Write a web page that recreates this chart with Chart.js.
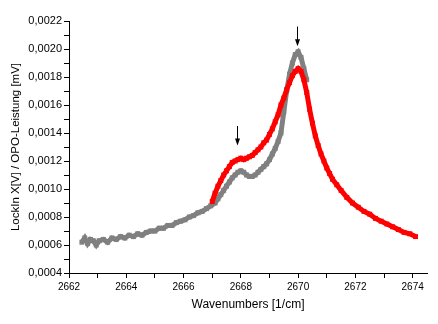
<!DOCTYPE html>
<html>
<head>
<meta charset="utf-8">
<script src="https://cdn.jsdelivr.net/npm/chart.js@4/dist/chart.umd.min.js"></script>
<style>
  html, body { margin: 0; padding: 0; background: #fff; }
  #wrap { width: 438px; height: 324px; }
</style>
</head>
<body>
<div id="wrap"><canvas id="chart" width="438" height="324"></canvas></div>
<script>
// gray trace (first scan)
const grayX = [2662.45, 2662.55, 2662.65, 2662.75, 2662.85, 2662.95, 2663.05, 2663.2, 2663.35, 2663.5,
  2663.65, 2663.8, 2663.95, 2664.1, 2664.25, 2664.4, 2664.55, 2664.7, 2664.85, 2665.0,
  2665.15, 2665.3, 2665.45, 2665.6, 2665.75, 2665.9, 2666.05, 2666.2, 2666.35, 2666.5,
  2666.65, 2666.8, 2666.95, 2667.1, 2667.2, 2667.3, 2667.4, 2667.5, 2667.6, 2667.7,
  2667.8, 2667.9, 2668.0, 2668.1, 2668.2, 2668.3, 2668.4, 2668.5, 2668.6, 2668.7,
  2668.8, 2668.9, 2669.0, 2669.1, 2669.2, 2669.3, 2669.4, 2669.5, 2669.6, 2669.7,
  2669.8, 2669.9, 2670.0, 2670.1, 2670.2, 2670.3];
const grayY = [0.00062, 0.00065, 0.00061, 0.00064, 0.00063, 0.00060, 0.00063, 0.00064, 0.00062, 0.00065,
  0.00064, 0.00066, 0.00065, 0.00067, 0.00066, 0.00068, 0.00067, 0.00069, 0.00070, 0.00070,
  0.00072, 0.00072, 0.00074, 0.00074, 0.00076, 0.00077, 0.00078, 0.00080, 0.00081, 0.00083,
  0.00084, 0.00086, 0.00088, 0.00090, 0.00093, 0.00096, 0.00099, 0.00102, 0.00105, 0.00108,
  0.00110, 0.00112, 0.00113, 0.00112, 0.00110, 0.00109, 0.00109, 0.00110, 0.00112, 0.00114,
  0.00116, 0.00118, 0.00121, 0.00125, 0.00129, 0.00134, 0.00140, 0.00155, 0.00170, 0.00182,
  0.00190, 0.00196, 0.00198, 0.00194, 0.00186, 0.00178];

// red trace (second scan)
const redX = [2667.0, 2667.1, 2667.2, 2667.3, 2667.4, 2667.5, 2667.6, 2667.7, 2667.8, 2667.9,
  2668.0, 2668.1, 2668.2, 2668.3, 2668.4, 2668.5, 2668.6, 2668.7, 2668.8, 2668.9,
  2669.0, 2669.1, 2669.2, 2669.3, 2669.4, 2669.5, 2669.6, 2669.7, 2669.8, 2669.9,
  2670.0, 2670.1, 2670.2, 2670.3, 2670.4, 2670.5, 2670.6, 2670.7, 2670.8, 2670.9,
  2671.0, 2671.1, 2671.2, 2671.35, 2671.5, 2671.7, 2671.9, 2672.1, 2672.3, 2672.5,
  2672.7, 2672.9, 2673.1, 2673.3, 2673.5, 2673.7, 2673.9, 2674.1];
const redY = [0.00091, 0.00097, 0.00102, 0.00106, 0.00110, 0.00113, 0.00116, 0.00119, 0.00120, 0.00121,
  0.00122, 0.00121, 0.00122, 0.00123, 0.00124, 0.00126, 0.00128, 0.00130, 0.00133, 0.00135,
  0.00139, 0.00143, 0.00148, 0.00153, 0.00160, 0.00165, 0.00171, 0.00176, 0.00181, 0.00184,
  0.00186, 0.00184, 0.00178, 0.00169, 0.00157, 0.00147, 0.00138, 0.00131, 0.00125, 0.00120,
  0.00115, 0.00111, 0.00107, 0.00103, 0.00099, 0.00094, 0.00090, 0.00087, 0.00084, 0.00082,
  0.00079, 0.00077, 0.00075, 0.00073, 0.00071, 0.00069, 0.00068, 0.00066];

// arrows marking the two features: x, top y, tip y
const arrowX = [2667.86, 2669.97];
const arrowTop = [0.00145, 0.00216];
const arrowTip = [0.00131, 0.00202];

const xTicks = [2662, 2664, 2666, 2668, 2670, 2672, 2674];

const toPoints = (xs, ys) => xs.map((x, i) => ({ x: x, y: ys[i] }));

const arrowPlugin = {
  id: 'arrows',
  afterDatasetsDraw(chart) {
    const { ctx, scales: { x, y } } = chart;
    ctx.save();
    ctx.strokeStyle = '#000';
    ctx.fillStyle = '#000';
    ctx.lineWidth = 1;
    arrowX.forEach((ax, i) => {
      const px = Math.round(x.getPixelForValue(ax)) + 0.5;
      const top = y.getPixelForValue(arrowTop[i]);
      const tip = y.getPixelForValue(arrowTip[i]);
      ctx.beginPath();
      ctx.moveTo(px, top);
      ctx.lineTo(px, tip - 5);
      ctx.stroke();
      ctx.beginPath();
      ctx.moveTo(px - 2.5, tip - 7);
      ctx.lineTo(px + 2.5, tip - 7);
      ctx.lineTo(px, tip);
      ctx.closePath();
      ctx.fill();
    });
    ctx.restore();
  }
};

const font = "'Liberation Sans', Arial, sans-serif";

new Chart(document.getElementById('chart'), {
  type: 'scatter',
  data: {
    datasets: [
      {
        data: toPoints(grayX, grayY),
        showLine: true,
        borderColor: '#808080',
        backgroundColor: '#808080',
        borderWidth: 5,
        pointRadius: 3.5,
        pointBorderWidth: 0,
        pointStyle: 'rect',
        order: 2
      },
      {
        data: toPoints(redX, redY),
        showLine: true,
        borderColor: '#ff0000',
        backgroundColor: '#ff0000',
        borderWidth: 5,
        pointRadius: 3.5,
        pointBorderWidth: 0,
        pointStyle: 'rect',
        order: 1
      }
    ]
  },
  options: {
    responsive: false,
    animation: false,
    layout: { padding: { left: 0, right: 11, top: 21, bottom: 0 } },
    plugins: { legend: { display: false }, tooltip: { enabled: false } },
    scales: {
      x: {
        type: 'linear',
        min: 2662,
        max: 2674.5,
        afterBuildTicks: (scale) => {
          scale.ticks = [];
          for (let v = 2662; v <= 2674; v++) scale.ticks.push({ value: v });
        },
        afterFit: (scale) => { scale.height = 51; },
        grid: { drawOnChartArea: false, tickLength: 5, tickColor: '#000' },
        border: { color: '#000', width: 1 },
        ticks: {
          autoSkip: false,
          maxRotation: 0,
          color: '#000',
          padding: 3,
          font: { family: font, size: 10 },
          callback: (v) => (xTicks.includes(v) ? String(v) : '')
        },
        title: {
          display: true,
          text: 'Wavenumbers [1/cm]',
          color: '#000',
          font: { family: font, size: 12 },
          padding: { top: 0, bottom: 12 }
        }
      },
      y: {
        type: 'linear',
        min: 0.0004,
        max: 0.0022,
        afterBuildTicks: (scale) => {
          scale.ticks = [];
          for (let k = 4; k <= 22; k++) scale.ticks.push({ value: k / 10000 });
        },
        afterFit: (scale) => { scale.width = 69; },
        grid: { drawOnChartArea: false, tickLength: 5, tickColor: '#000' },
        border: { color: '#000', width: 1 },
        ticks: {
          autoSkip: false,
          color: '#000',
          padding: 2,
          font: { family: font, size: 11 },
          callback: (v) => {
            const k = Math.round(v * 10000);
            return k % 2 === 0 ? v.toFixed(4).replace('.', ',') : '';
          }
        },
        title: {
          display: true,
          text: 'LockIn X[V] / OPO-Leistung [mV]',
          color: '#000',
          font: { family: font, size: 11.5 },
          padding: { top: 9, bottom: 0 }
        }
      }
    }
  },
  plugins: [arrowPlugin]
});
</script>
</body>
</html>
